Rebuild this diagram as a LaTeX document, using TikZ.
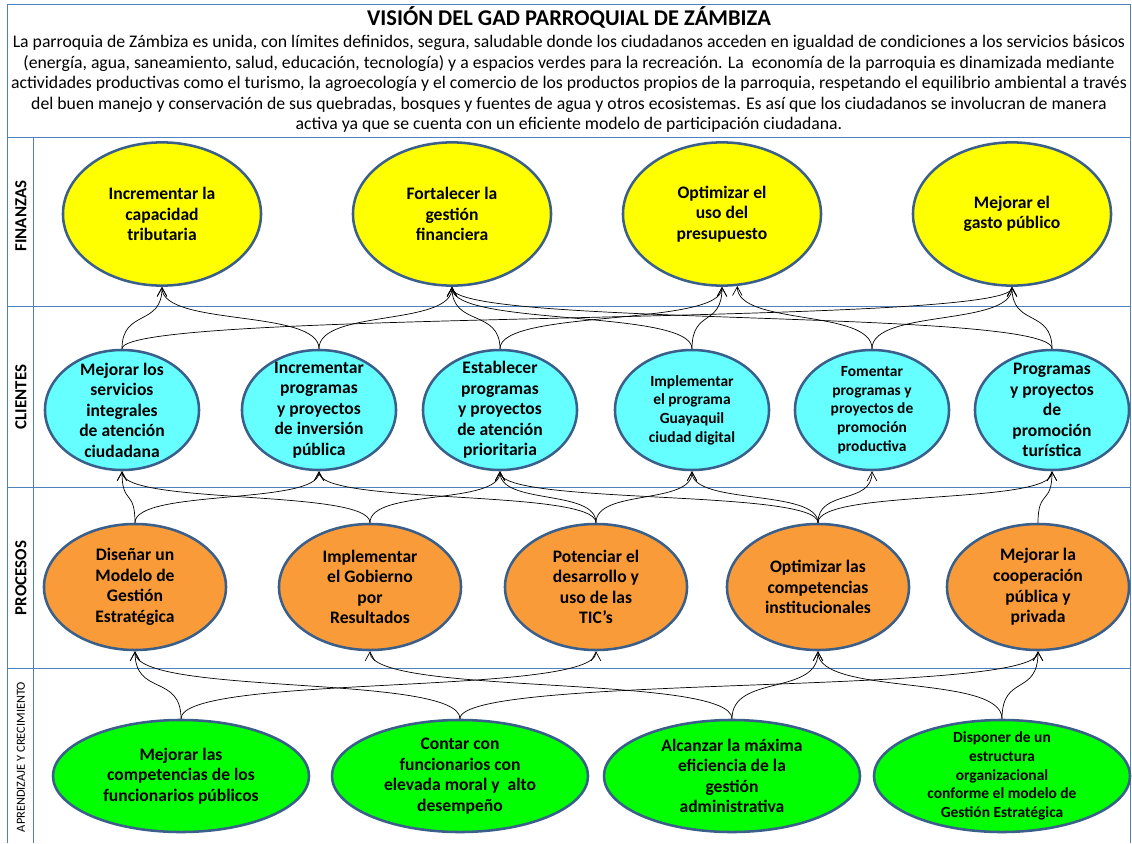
\documentclass[tikz,border=0pt]{standalone}
\usepackage{fontspec}
\setmainfont{Carlito}
\usetikzlibrary{shapes.geometric, arrows.meta}

\definecolor{finyellow}{HTML}{FFFF00}
\definecolor{clicyan}{HTML}{66FFFF}
\definecolor{proorange}{HTML}{F89B38}
\definecolor{aprgreen}{HTML}{00FF00}
\definecolor{objborder}{HTML}{3A5F8B}
\definecolor{frameblue}{HTML}{4F81BD}

\tikzset{
    frame line/.style={draw=frameblue, line width=0.7pt},
    obj/.style={ellipse, draw=objborder, line width=1.8pt, inner sep=0pt},
    fin/.style={obj, fill=finyellow, minimum width=4.95cm, minimum height=3.58cm},
    cli/.style={obj, fill=clicyan, minimum width=3.85cm, minimum height=3cm},
    pro/.style={obj, fill=proorange, minimum width=4.55cm, minimum height=3.15cm},
    apr/.style={obj, fill=aprgreen, minimum width=6.4cm, minimum height=2.8cm},
    txt/.style={align=center, inner sep=0pt, font=\bfseries\fontsize{12.5}{14.6}\selectfont},
    small txt/.style={txt, font=\bfseries\fontsize{11}{13.3}\selectfont},
    row/.style={rotate=90, inner sep=0pt, font=\bfseries\fontsize{12}{14}\selectfont},
    link/.style={-{Straight Barb[length=2.2mm, width=2.4mm]}, line width=0.5pt,
        to path={.. controls +(0,-#1) and +(0,#1) .. (\tikztotarget)}},
    link/.default=40
}

\begin{document}
\begin{tikzpicture}[x=0.025cm, y=-0.025cm]
    \useasboundingbox (0,0) rectangle (1132,843);

    %% Frame
    \draw[frame line] (7,843) -- (7,4) -- (1130,4) -- (1130,843);
    \draw[frame line] (7,137) -- (1130,137);
    \draw[frame line] (7,306) -- (1130,306);
    \draw[frame line] (7,487) -- (1130,487);
    \draw[frame line] (7,668) -- (1130,668);
    \draw[frame line] (33,137) -- (33,843);

    %% Vision
    \node[font=\bfseries\fontsize{16}{19}\selectfont, inner sep=0pt] (title) at (569,17) {VISIÓN DEL GAD PARROQUIAL DE ZÁMBIZA};
    \node[font=\fontsize{12.6}{14.6}\selectfont, align=center, inner sep=0pt] (vision) at (569,84) {La parroquia de Zámbiza es unida, con límites definidos, segura, saludable donde los ciudadanos acceden en igualdad de condiciones a los servicios básicos\\(energía, agua, saneamiento, salud, educación, tecnología) y a espacios verdes para la recreación. La\ \ economía de la parroquia es dinamizada mediante\\actividades productivas como el turismo, la agroecología y el comercio de los productos propios de la parroquia, respetando el equilibrio ambiental a través\\del buen manejo y conservación de sus quebradas, bosques y fuentes de agua y otros ecosistemas. Es así que los ciudadanos se involucran de manera\\activa ya que se cuenta con un eficiente modelo de participación ciudadana.};

    %% Row labels
    \node[row] (lfin) at (21,216) {FINANZAS};
    \node[row] (lcli) at (21,397) {CLIENTES};
    \node[row] (lpro) at (21,578) {PROCESOS};
    \node[row, font=\fontsize{8.8}{10}\selectfont] (lapr) at (21,757) {APRENDIZAJE Y CRECIMIENTO};

    %% Finanzas
    \node[fin] (fin1) at (162,214) {};
    \node[fin] (fin2) at (452,214) {};
    \node[fin] (fin3) at (722,214) {};
    \node[fin] (fin4) at (1012,214) {};
    \node[txt] (fin1t) at (fin1) {Incrementar la\\capacidad\\tributaria};
    \node[txt] (fin2t) at (fin2) {Fortalecer la\\gestión\\financiera};
    \node[txt] (fin3t) at (fin3) {Optimizar el\\uso del\\presupuesto};
    \node[txt] (fin4t) at (fin4) {Mejorar el\\gasto público};

    %% Clientes
    \node[cli] (cli1) at (122,410) {};
    \node[cli] (cli2) at (319,410) {};
    \node[cli] (cli3) at (500,410) {};
    \node[cli] (cli4) at (692,410) {};
    \node[cli] (cli5) at (872,410) {};
    \node[cli] (cli6) at (1052,410) {};
    \node[txt] (cli1t) at (cli1) {Mejorar los\\servicios\\integrales\\de atención\\ciudadana};
    \node[txt] (cli2t) at (cli2) {Incrementar\\programas\\y proyectos\\de inversión\\pública};
    \node[txt] (cli3t) at (cli3) {Establecer\\programas\\y proyectos\\de atención\\prioritaria};
    \node[small txt] (cli4t) at (cli4) {Implementar\\el programa\\Guayaquil\\ciudad digital};
    \node[small txt] (cli5t) at (cli5) {Fomentar\\programas y\\proyectos de\\promoción\\productiva};
    \node[txt] (cli6t) at (cli6) {Programas\\y proyectos\\de\\promoción\\turística};

    %% Procesos
    \node[pro] (pro1) at (135,587) {};
    \node[pro] (pro2) at (370,587) {};
    \node[pro] (pro3) at (596,587) {};
    \node[pro] (pro4) at (818,587) {};
    \node[pro] (pro5) at (1038,587) {};
    \node[txt] (pro1t) at (pro1) {Diseñar un\\Modelo de\\Gestión\\Estratégica};
    \node[txt] (pro2t) at (pro2) {Implementar\\el Gobierno\\por\\Resultados};
    \node[txt] (pro3t) at (pro3) {Potenciar el\\desarrollo y\\uso de las\\TIC’s};
    \node[txt] (pro4t) at (pro4) {Optimizar las\\competencias\\institucionales};
    \node[txt] (pro5t) at (pro5) {Mejorar la\\cooperación\\pública y\\privada};

    %% Aprendizaje y crecimiento
    \node[apr] (apr1) at (181,776) {};
    \node[apr] (apr2) at (460,776) {};
    \node[apr] (apr3) at (732,776) {};
    \node[apr] (apr4) at (1002,776) {};
    \node[txt] (apr1t) at (apr1) {Mejorar las\\competencias de los\\funcionarios públicos};
    \node[txt] (apr2t) at (apr2) {Contar con\\funcionarios con\\elevada moral y\ \ alto\\desempeño};
    \node[txt] (apr3t) at (apr3) {Alcanzar la máxima\\eficiencia de la\\gestión\\administrativa};
    \node[small txt] (apr4t) at (apr4) {Disponer de un\\estructura\\organizacional\\conforme el modelo de\\Gestión Estratégica};

    %% Clientes -> Finanzas
    \draw[link] (cli1.north) to (fin1.south);
    \draw[link] (cli1.north) to (fin4.south);
    \draw[link] (cli2.north) to (fin1.south);
    \draw[link] (cli2.north) to (fin2.south);
    \draw[link] (cli3.north) to (fin2.south);
    \draw[link] (cli3.north) to (fin3.south);
    \draw[link] (cli4.north) to (fin2.south);
    \draw[link] (cli4.north) to (fin3.south);
    \draw[link] (cli5.north) to (fin3.-78);
    \draw[link] (cli5.north) to (fin4.south);
    \draw[link] (cli6.north) to (fin4.south);
    \draw[link] (cli6.north) to (fin2.south);

    %% Procesos -> Clientes
    \draw[link=34] (pro1.north) to (cli1.south);
    \draw[link=34] (pro1.north) to (cli2.south);
    \draw[link=34] (pro2.north) to (cli1.south);
    \draw[link=34] (pro2.north) to (cli3.south);
    \draw[link=34] (pro3.north) to (cli2.south);
    \draw[link=34] (pro3.north) to (cli3.south);
    \draw[link=34] (pro3.north) to (cli4.south);
    \draw[link=34] (pro4.north) to (cli3.south);
    \draw[link=34] (pro4.north) to (cli4.south);
    \draw[link=34] (pro4.north) to (cli5.south);
    \draw[link=34] (pro4.north) to (cli6.south);
    \draw[link=34] (pro5.north) to (cli6.south);

    %% Aprendizaje -> Procesos
    \draw[link=45] (apr1.north) to (pro1.south);
    \draw[link=45] (apr1.north) to (pro3.south);
    \draw[link=45] (apr2.north) to (pro1.south);
    \draw[link=45] (apr2.north) to (pro5.south);
    \draw[link=45] (apr3.north) to (pro2.south);
    \draw[link=45] (apr3.north) to (pro4.south);
    \draw[link=45] (apr4.north) to (pro4.south);
    \draw[link=45] (apr4.north) to (pro5.south);
\end{tikzpicture}
\end{document}
